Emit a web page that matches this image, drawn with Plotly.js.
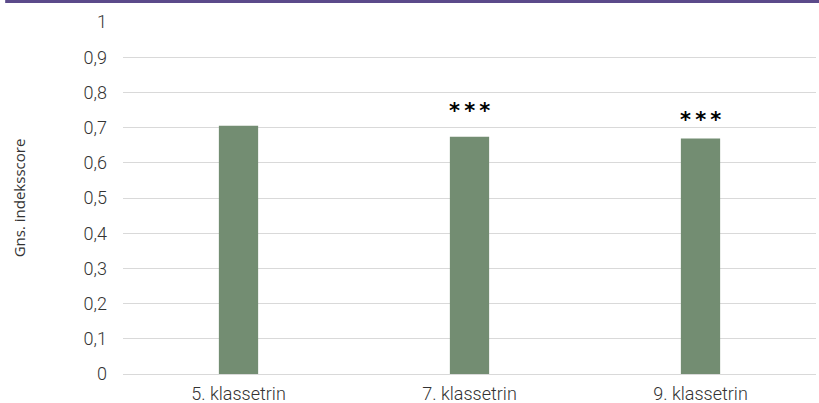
<!DOCTYPE html>
<html>
<head>
<meta charset="utf-8">
<script src="https://cdn.plot.ly/plotly-3.0.1.min.js"></script>
<style>html,body{margin:0;padding:0;background:#fff;}#chart{width:819px;height:403px;}</style>
</head>
<body>
<div id="chart"></div>
<script>
const categories = ["5. klassetrin", "7. klassetrin", "9. klassetrin"];
const values = [0.705, 0.674, 0.669];
const significance = ["", "*\u2009*\u2009*", "*\u2009*\u2009*"];
const starY = [0, 0.746, 0.723];
const yTicks = [0, 0.1, 0.2, 0.3, 0.4, 0.5, 0.6, 0.7, 0.8, 0.9, 1];
const yTickLabels = ["0", "0,1", "0,2", "0,3", "0,4", "0,5", "0,6", "0,7", "0,8", "0,9", "1"];

const annotations = [];
categories.forEach((c, i) => {
  if (significance[i]) {
    annotations.push({x: c, y: starY[i], xref: 'x', yref: 'y', text: significance[i],
      showarrow: false, font: {family: 'DejaVu Sans', size: 21, weight: 'bold', color: '#000'}});
  }
});

const data = [{
  type: 'bar', x: categories, y: values,
  marker: {color: '#738d72'}, hoverinfo: 'none'
}];

const tf = {family: 'Roboto', size: 18, weight: 300, color: '#333333'};

const layout = {
  width: 819, height: 403,
  margin: {l: 123, r: 3, t: 22, b: 29},
  paper_bgcolor: '#fff', plot_bgcolor: '#fff',
  bargap: 0.83,
  showlegend: false,
  font: {family: 'Roboto', color: '#333333'},
  xaxis: {
    showline: true, linecolor: '#d9d9d9', linewidth: 1,
    tickfont: tf, ticklabelstandoff: 3,
    ticks: '', showgrid: false, zeroline: false
  },
  yaxis: {
    range: [0, 1], tickvals: yTicks, ticktext: yTickLabels,
    showgrid: true, gridcolor: '#d9d9d9', gridwidth: 1,
    zeroline: false, showline: false, ticks: '',
    ticklabelstandoff: 15,
    tickfont: tf,
    title: {text: 'Gns. indeksscore', standoff: 54, font: {family: 'Open Sans', size: 15, color: '#333333'}}
  },
  annotations: annotations,
  shapes: [{type: 'line', xref: 'paper', yref: 'paper', x0: -0.17, x1: 1.01, y0: 1.058, y1: 1.058,
    line: {color: '#5b4a8a', width: 3}}]
};

Plotly.newPlot('chart', data, layout, {displayModeBar: false, staticPlot: true});
</script>
</body>
</html>
